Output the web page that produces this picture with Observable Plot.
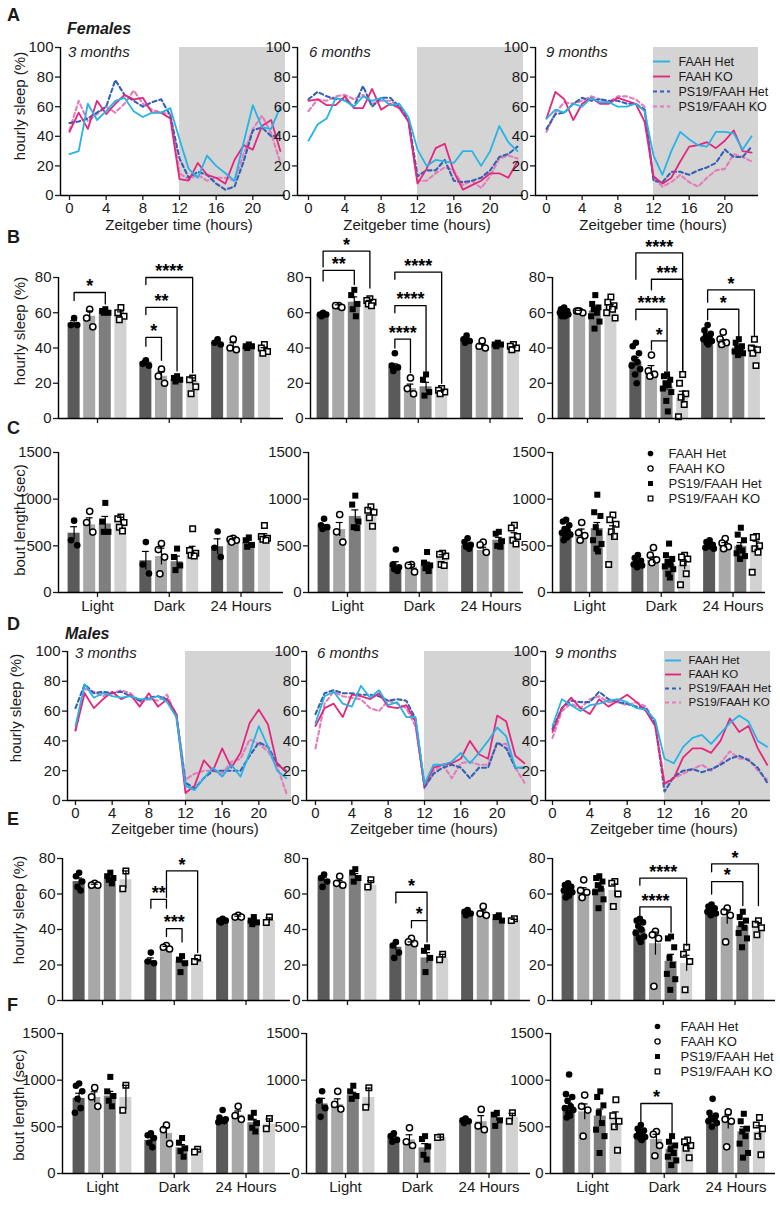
<!DOCTYPE html>
<html><head><meta charset="utf-8">
<script src="https://cdn.jsdelivr.net/npm/d3@7"></script>
<script src="https://cdn.jsdelivr.net/npm/@observablehq/plot@0.6"></script>
<style>
body{margin:0;background:#fff;}
#fig{position:relative;width:780px;height:1206px;font-family:"Liberation Sans",Arial,Helvetica,sans-serif;color:#1a1a1a;overflow:hidden;background:#fff}
.t{position:absolute;white-space:nowrap;line-height:1}
.pl{position:absolute}
#fig g.tick line, #fig g[aria-label$="tick"] path{stroke-width:1.3}
</style></head><body><div id="fig"></div>
<script>
// ---------------- DATA ----------------
const genotypes = ["FAAH Het","FAAH KO","PS19/FAAH Het","PS19/FAAH KO"];
const phases = ["Light","Dark","24 Hours"];
const ages = ["3 months","6 months","9 months"];
const hours = [0,1,2,3,4,5,6,7,8,9,10,11,12,13,14,15,16,17,18,19,20,21,22,23];
const hourTicks = [0,4,8,12,16,20];
const sleepLineTicks = [0,20,40,60,80,100];
const sleepBarTicks = [0,20,40,60,80];
const boutTicks = [0,500,1000,1500];
const darkPhase = [12,24];

// Females hourly sleep (A)
const f3_het  = [28,30,62,51,57,64,66,57,53,56,56,59,38,18,12,27,20,15,10,36,61,46,45,60];
const f3_ko   = [43,56,45,64,55,62,68,65,66,56,56,52,11,10,22,14,12,8,24,34,31,47,51,30];
const f3_psHet= [49,50,52,56,60,78,68,64,60,63,65,54,25,12,16,14,8,4,6,23,44,46,40,41];
const f3_psKo = [44,64,50,55,60,56,62,71,62,58,56,55,15,11,14,10,12,12,10,28,45,54,42,22];
const f6_het  = [37,48,52,66,64,60,67,64,66,61,62,53,31,20,24,23,22,30,30,20,30,47,36,30];
const f6_ko   = [64,65,61,61,67,59,59,72,58,62,59,50,8,18,32,35,16,4,7,10,15,15,12,23];
const f6_psHet= [65,70,67,65,65,60,74,60,66,66,60,52,13,17,17,24,10,9,10,12,17,26,28,33];
const f6_psKo = [57,65,64,67,68,65,68,62,64,64,60,50,10,10,15,19,17,7,10,5,13,25,27,25];
const f9_het  = [52,58,56,62,60,66,63,63,60,60,62,57,27,14,30,43,38,34,33,43,43,42,31,40];
const f9_ko   = [52,70,65,51,62,66,62,62,66,64,62,50,13,8,12,23,33,34,36,32,37,44,30,29];
const f9_psHet= [45,55,56,62,66,64,65,64,64,62,62,58,10,9,16,16,14,17,19,22,31,26,26,33];
const f9_psKo = [43,56,63,62,64,67,65,63,67,67,65,60,12,6,9,14,9,6,12,17,18,28,26,23];
// Males hourly sleep (D)
const m3_het  = [50,78,69,72,70,69,70,68,68,70,66,56,10,7,15,22,16,24,16,32,50,36,20,15];
const m3_ko   = [47,72,62,68,73,68,71,63,72,63,68,58,5,10,27,20,35,22,32,52,61,51,24,20];
const m3_psHet= [62,78,72,73,72,73,70,67,69,70,68,58,12,8,15,20,20,20,20,30,39,36,25,19];
const m3_psKo = [47,75,73,70,72,74,72,66,68,67,71,56,14,18,20,20,18,26,28,41,38,33,23,5];
const m6_het  = [52,70,73,65,63,77,69,74,64,66,56,56,11,24,24,26,32,25,32,40,49,43,22,22];
const m6_ko   = [50,62,65,56,71,70,68,72,63,62,64,53,10,22,24,25,28,40,31,28,57,53,30,25];
const m6_psHet= [58,72,74,72,72,71,71,70,67,68,67,55,9,18,22,24,22,15,22,22,39,35,22,22];
const m6_psKo = [35,65,73,70,69,68,62,60,67,65,62,50,8,20,24,15,25,26,24,24,38,38,22,12];
const m9_het  = [50,68,64,60,64,65,67,68,66,62,61,54,28,25,36,42,44,38,45,52,57,53,40,36];
const m9_ko   = [46,62,69,62,58,68,63,67,71,66,60,50,11,15,29,35,35,32,40,55,46,50,35,24];
const m9_psHet= [48,62,67,66,66,73,68,66,65,63,62,52,6,16,20,21,19,21,24,28,30,27,22,12];
const m9_psKo = [42,60,65,62,68,70,66,66,64,66,63,52,12,15,18,21,24,20,25,33,28,28,20,14];

// Bar panels: rows = [Light, Dark, 24 Hours], cols = genotypes
// Females hourly sleep (B)
const fS3_mean = [[54,58,61,59],[32,24,22,21],[43,41,41,39]];
const fS3_sem  = [[1.5,3,0.6,1.5],[1,2.5,0.7,2],[1,2,0.4,1.2]];
const fS3_pts  = [[[57,53,53],[62,57,52],[62,61,60,60],[63,60,58,56]],
                  [[33,31,30],[28,24,20],[24,23,22,21],[23,22,18,14]],
                  [[45,43,42],[45,40,39],[42,41,41,40],[42,40,38,37]]];
const fS3_sig  = [[0,0,2,71.5,67,65,"*"],[1,0,1,46,41,33,"*"],[1,0,2,63,59,27,"**"],[1,0,3,80,76,26,"****"]];
const fS6_mean = [[59,64,66,66],[29,17,18,15],[44,41,42,40]];
const fS6_sem  = [[0.5,0.5,3,1],[2,2.5,2.5,0.8],[1,1.2,0.5,0.6]];
const fS6_pts  = [[[60,59,59,58],[64,64,63],[73,70,65,62,58],[68,67,66,65,64]],
                  [[37,30,29,27],[23,17,14],[25,22,15,13],[17,16,15,14]],
                  [[47,45,44,43],[44,41,40],[43,42,42,41],[42,41,40,39]]];
const fS6_sig  = [[0,0,2,84,78,76,"**"],[0,0,3,95,86,74,"*"],[1,0,1,45,40,26,"****"],[1,0,2,64,60,26,"****"],[1,0,3,83,79,20,"****"]];
const fS9_mean = [[60,61,61,63],[32,27,18,12],[46,43,40,39]];
const fS9_sem  = [[0.6,0.4,2,1.6],[2.5,3,2,3.5],[1,1.5,1,2]];
const fS9_pts  = [[[63,62,61,61,60,60,59,59,58,58],[61,61,60,61],[70,65,63,62,60,58,55,51],[69,66,64,63,62,60,57]],
                  [[43,41,37,34,32,30,28,25,20],[36,27,25,24],[25,24,22,20,19,17,15,10,4],[25,20,14,12,8,1]],
                  [[53,50,48,47,46,45,44,43,42],[49,45,43,42],[45,43,41,40,39,38,37,36],[45,40,39,37,30]]];
const fS9_sig  = [[1,0,3,94,79,27,"****"],[1,1,3,79,73,27,"***"],[1,0,2,62,56,44,"****"],[1,1,2,44,39,27,"*"],
                  [2,0,3,73,66,47,"*"],[2,0,2,62,56,46,"*"]];
// Females bout length (C)
const fB3_mean = [[635,725,735,770],[340,385,330,440],[490,560,530,600]];
const fB3_sem  = [[70,75,80,35],[100,90,60,55],[85,15,30,30]];
const fB3_pts  = [[[770,560,505],[870,750,647],[960,760,650,650],[810,790,750,700,660]],
                  [[540,300,203],[525,460,380,200],[470,380,290,240],[683,450,420,400,390]],
                  [[654,480,380],[580,570,560,540],[590,560,510,490],[718,600,580,570,560]]];
const fB6_mean = [[700,675,815,860],[285,270,290,375],[505,450,560,600]];
const fB6_sem  = [[25,75,70,35],[45,30,35,30],[20,35,30,40]];
const fB6_pts  = [[[790,720,700,680],[835,650,540],[1038,942,760,700,690],[920,880,860,800,710]],
                  [[460,300,270,250,230],[300,290,220],[434,320,290,260,230],[420,410,390,300,290]],
                  [[580,540,510,490,470],[540,510,430],[650,630,550,500,490],[720,690,600,560,520]]];
const fB9_mean = [[650,640,685,645],[325,345,300,290],[505,505,495,495]];
const fB9_sem  = [[20,40,65,70],[15,35,35,45],[15,30,40,55]];
const fB9_pts  = [[[780,760,720,680,660,640,620,600,590,560],[750,640,610,560],[1048,860,820,700,640,560,520,470,440],[830,780,730,650,600,300]],
                  [[400,370,340,320,310,300,290,270],[480,400,350,320],[524,400,360,330,300,280,250,200,160],[400,380,360,320,200,83]],
                  [[560,540,510,500,490,480,470],[578,530,490,470],[694,620,560,480,450,420,390,360],[600,590,500,470,430,217]]];
// Males hourly sleep (E)
const mS3_mean = [[67,65,68,68],[22.5,30,22,22],[45,47,45,45]];
const mS3_sem  = [[2,0.5,1,5],[1.5,0.5,2,1],[0.5,0.5,1,1.5]];
const mS3_pts  = [[[72,70,67,64,62],[66,65,65],[72,70,69,68,66],[73,63]],
                  [[27,22,21],[31,30,29],[25,23,21,16],[24,22]],
                  [[46,45,45,44],[48,47,47],[47,45,44,43],[47,44]]];
const mS3_sig  = [[1,0,1,57,52,52,"**"],[1,1,2,40.5,36,33,"***"],[1,1,3,73,58,27,"*"]];
const mS6_mean = [[68,66,70,65],[30,32,24,24],[49,49,46,45]];
const mS6_sem  = [[1.5,1.5,1.5,2.5],[2,1,3,2],[0.7,1.5,0.8,0.7]];
const mS6_pts  = [[[71,69,67,64],[70,66,65],[74,72,69,67],[68,64]],
                  [[33,31,27,24],[35,33,32],[30,28,24,16],[26,23]],
                  [[51,50,49,48],[53,49,48],[48,47,45],[46,45]]];
const mS6_sig  = [[1,0,2,61,55,45,"*"],[1,1,2,45,41,33,"*"]];
const mS9_mean = [[62.5,62,63,62],[40,32,22,21],[51,47,42,42]];
const mS9_sem  = [[0.8,1.5,2,3.5],[1.5,6.5,4,4.5],[0.6,4,2,1.8]];
const mS9_pts  = [[[66,65,64,63,62,62,61,60,59,58],[68,62,61,58],[70,69,67,65,63,61,57,52],[67,66,60,53]],
                  [[46,45,44,42,40,38,36,35,33],[39,37,35,8],[36,35,30,24,20,15,12,6],[30,26,22,6]],
                  [[54,53,52,52,51,50,49,48],[52,50,48,33],[50,47,45,43,41,38,35,30],[45,43,41,37]]];
const mS9_sig  = [[1,0,3,69,65,31,"****"],[1,0,2,52.7,48,38.5,"****"],[2,0,3,77,72.5,53.5,"*"],[2,0,2,67,60,53.5,"*"]];
// Males bout length (F)
const mB3_mean = [[805,815,830,815],[355,430,275,245],[570,625,545,530]];
const mB3_sem  = [[55,60,50,130],[30,60,35,15],[20,45,35,55]];
const mB3_pts  = [[[964,940,880,800,700,650],[920,820,720],[1035,880,830,780,720],[946,678]],
                  [[430,410,380,330,280],[518,470,320],[380,330,270,240,180],[260,230]],
                  [[680,600,580,570,560,550],[720,620,580],[650,600,540,490,450],[590,480]]];
const mB6_mean = [[745,740,840,815],[375,360,275,385],[565,555,590,600]];
const mB6_sem  = [[60,60,30,100],[25,55,45,5],[15,65,30,45]];
const mB6_pts  = [[[882,780,700,607],[880,740,690],[940,880,830,800],[920,710]],
                  [[430,400,360,340],[489,340,300],[400,370,290,200,150],[390,385]],
                  [[590,570,560,540],[686,510,470],[650,630,570,510],[650,560]]];
const mB9_mean = [[715,660,615,570],[410,365,260,285],[590,553,446,446]];
const mB9_sem  = [[40,85,75,90],[15,55,35,35],[25,75,55,65]];
const mB9_pts  = [[[1060,850,820,780,720,700,680,650,620,600],[840,720,680,400],[880,820,730,650,540,470,400,220],[790,620,560,500,250]],
                  [[520,480,460,440,420,400,390,380,360],[450,420,300,190],[400,340,300,260,220,180,140,90],[360,340,300,270,170]],
                  [[800,650,620,600,580,560,540,500],[660,580,560,286],[640,560,480,450,400,320,220,170],[600,520,480,400,200]]];
const mB9_sig  = [[1,0,2,750,535,410,"*"]];

// ---------------- STYLE / LAYOUT ----------------
const lineColors = ["#27b3e6","#e5267d","#3461b3","#e47cba"];
const barColors = ["#5a5a5a","#a8a8a8","#7e7e7e","#d2d2d2"];
const shadeColor = "#d4d4d4";
const FONT = '"Liberation Sans", Arial, Helvetica, sans-serif';
const S = {fontFamily: FONT, fontSize: "15px", color: "#1a1a1a", background: "transparent", overflow: "visible", maxWidth: "none"};
const unitPx = 15.6, groupStep = 4.6, barHalf = 0.385, capHalf = 0.22;
const jitter = [0,-0.2,0.2,-0.1,0.1,-0.27,0.27,-0.05,0.05,-0.15,0.15];
const plain = d => String(d);
const fig = document.getElementById("fig");

function mount(svg, left, top, w) {
  const d = document.createElement("div");
  d.className = "pl"; d.style.left = left + "px"; d.style.top = top + "px"; d.style.width = w + "px";
  d.appendChild(svg); fig.appendChild(d);
}
function txt(s, x, base, size, o = {}) {
  const d = document.createElement("div");
  d.className = "t"; d.textContent = s;
  d.style.left = x + "px"; d.style.top = (base - 0.85 * size) + "px"; d.style.fontSize = size + "px";
  if (o.bold) d.style.fontWeight = "bold";
  if (o.italic) d.style.fontStyle = "italic";
  if (o.center) d.style.transform = "translateX(-50%)";
  fig.appendChild(d);
}
function vtxt(s, cx, cy, size) {
  const d = document.createElement("div");
  d.className = "t"; d.textContent = s;
  d.style.left = cx + "px"; d.style.top = cy + "px"; d.style.fontSize = size + "px";
  d.style.transform = "translate(-50%,-50%) rotate(-90deg)";
  fig.appendChild(d);
}

function linePanel(series, lay) {
  const mL = 45, mR = 8, mT = 8, mB = 30;
  const pxh = (lay.x12 - lay.x0) / 12;
  const xmin = -(lay.x0 - lay.L) / pxh, xmax = (lay.R - lay.x0) / pxh;
  const w = lay.R - lay.L + mL + mR, h = lay.B - lay.T + mT + mB;
  const order = [3, 2, 1, 0];
  const svg = Plot.plot({
    width: w, height: h, marginLeft: mL, marginRight: mR, marginTop: mT, marginBottom: mB,
    style: S,
    x: {domain: [xmin, xmax], ticks: hourTicks, tickFormat: plain, tickSize: 5, tickPadding: 2, label: null},
    y: {domain: [0, 100], ticks: sleepLineTicks, tickFormat: plain, tickSize: 5, tickPadding: 2, label: null},
    marks: [
      Plot.rect([darkPhase], {x1: d => d[0], x2: d => d[1], y1: 0, y2: 100, fill: shadeColor, clip: true}),
      ...order.map(j => Plot.line(hours, Object.assign(
        {x: d => d, y: (d, i) => series[j][i], stroke: lineColors[j], strokeWidth: j < 2 ? 1.8 : 2.1},
        j < 2 ? {} : {strokeDasharray: "4,3"}))),
      Plot.ruleY([0], {stroke: "black", strokeWidth: 1.4}),
      Plot.ruleX([xmin], {stroke: "black", strokeWidth: 1.4})
    ]
  });
  mount(svg, lay.L - mL, lay.T - mT, w);
}

function barPanel(mean, sem, pts, sig, lay, yMax, yTicks, showLabels) {
  const mL = 45, mR = 8, mT = 55, mB = 32;
  const xmin = 1.5 - (lay.c0 - lay.L) / unitPx, xmax = 1.5 + (lay.R - lay.c0) / unitPx;
  const w = lay.R - lay.L + mL + mR, h = lay.B - lay.T + mT + mB;
  const pos = (g, k) => g * groupStep + k;
  const bars = [], dots = [[], [], [], []];
  phases.forEach((p, g) => genotypes.forEach((gt, k) => {
    const x = pos(g, k);
    bars.push({x, k, m: mean[g][k], e: sem[g][k]});
    pts[g][k].forEach((v, i) => dots[k].push({x: x + jitter[i % jitter.length], v}));
  }));
  const br = sig.flatMap((s, j) => [
    {j, x: pos(s[0], s[1]), y: s[4]}, {j, x: pos(s[0], s[1]), y: s[3]},
    {j, x: pos(s[0], s[2]), y: s[3]}, {j, x: pos(s[0], s[2]), y: s[5]}]);
  const dotStyles = [
    {fill: "black", r: 3.3},
    {fill: "white", stroke: "black", strokeWidth: 1.5, r: 3.1},
    {fill: "black", symbol: "square", r: 3.4},
    {fill: "white", stroke: "black", strokeWidth: 1.5, symbol: "square", r: 3.1}
  ];
  const svg = Plot.plot({
    width: w, height: h, marginLeft: mL, marginRight: mR, marginTop: mT, marginBottom: mB,
    style: S,
    x: {domain: [xmin, xmax], ticks: phases.map((p, g) => pos(g, 1.5)),
        tickFormat: d => showLabels ? phases[Math.round((d - 1.5) / groupStep)] : "",
        tickSize: 5, tickPadding: 3, label: null},
    y: {domain: [0, yMax], ticks: yTicks, tickFormat: plain, tickSize: 5, tickPadding: 2, label: null},
    marks: [
      ...barColors.map((c, k) => Plot.rect(bars.filter(d => d.k === k),
        {x1: d => d.x - barHalf, x2: d => d.x + barHalf, y1: 0, y2: "m", fill: c})),
      ...dotStyles.map((st, k) => Plot.dot(dots[k], Object.assign({x: "x", y: "v"}, st))),
      Plot.ruleX(bars, {x: "x", y1: d => d.m - d.e, y2: d => d.m + d.e, stroke: "black", strokeWidth: 1.2}),
      Plot.ruleY(bars, {y: d => d.m + d.e, x1: d => d.x - capHalf, x2: d => d.x + capHalf, stroke: "black", strokeWidth: 1.2}),
      Plot.line(br, {x: "x", y: "y", z: "j", stroke: "black", strokeWidth: 1.3}),
      Plot.text(sig, {x: s => (pos(s[0], s[1]) + pos(s[0], s[2])) / 2, y: s => s[3], text: s => s[6],
        dy: -6, fontSize: 18, fontWeight: "bold", fill: "black"}),
      Plot.ruleY([0], {stroke: "black", strokeWidth: 1.4}),
      Plot.ruleX([xmin], {stroke: "black", strokeWidth: 1.4})
    ]
  });
  mount(svg, lay.L - mL, lay.T - mT, w);
}

function lineLegend(x, y, seg, gap, spacing, size) {
  const w = 130, h = spacing * 3 + 16;
  const svg = Plot.plot({
    width: w, height: h, margin: 0, style: Object.assign({}, S, {fontSize: size + "px"}),
    x: {domain: [0, 1], range: [4, 4 + seg], axis: null},
    y: {type: "point", domain: genotypes, range: [8, 8 + spacing * 3], axis: null},
    marks: [
      ...genotypes.map((g, j) => Plot.ruleY([g], Object.assign(
        {y: d => d, x1: 0, x2: 1, stroke: lineColors[j], strokeWidth: j < 2 ? 1.9 : 2.2},
        j < 2 ? {} : {strokeDasharray: "4,3"}))),
      Plot.text(genotypes, {x: 1, y: d => d, text: d => d, dx: gap, textAnchor: "start", fill: "#1a1a1a"})
    ]
  });
  mount(svg, x - 4, y - 8, w);
}
function dotLegend(x, y, gap, spacing, size) {
  const w = 128, h = spacing * 3 + 16;
  const st = [
    {fill: "black", r: 2.8}, {fill: "white", stroke: "black", strokeWidth: 1.3, r: 2.6},
    {fill: "black", symbol: "square", r: 2.8}, {fill: "white", stroke: "black", strokeWidth: 1.3, symbol: "square", r: 2.6}];
  const svg = Plot.plot({
    width: w, height: h, margin: 0, style: Object.assign({}, S, {fontSize: size + "px"}),
    x: {domain: [0, 1], range: [6, 6 + gap], axis: null},
    y: {type: "point", domain: genotypes, range: [8, 8 + spacing * 3], axis: null},
    marks: [
      ...genotypes.map((g, j) => Plot.dot([g], Object.assign({x: 0, y: d => d}, st[j]))),
      Plot.text(genotypes, {x: 1, y: d => d, text: d => d, textAnchor: "start", fill: "#1a1a1a"})
    ]
  });
  mount(svg, x - 6, y - 8, w);
}

// ---------------- ROW A: Females line ----------------
const layA = [{L:60,R:285,x0:69,x12:179},{L:297,R:523,x0:308,x12:417},{L:535,R:758,x0:546,x12:653}].map(o => Object.assign(o, {T:47,B:195}));
linePanel([f3_het,f3_ko,f3_psHet,f3_psKo], layA[0]);
linePanel([f6_het,f6_ko,f6_psHet,f6_psKo], layA[1]);
linePanel([f9_het,f9_ko,f9_psHet,f9_psKo], layA[2]);
lineLegend(653, 53, 17, 8, 20, 12.5);

// ---------------- ROW B: Females hourly sleep bars ----------------
const layB = [{L:58,R:283,c0:97},{L:310,R:523,c0:346},{L:552,R:765,c0:587}].map(o => Object.assign(o, {T:277,B:418}));
barPanel(fS3_mean, fS3_sem, fS3_pts, fS3_sig, layB[0], 80, sleepBarTicks, false);
barPanel(fS6_mean, fS6_sem, fS6_pts, fS6_sig, layB[1], 80, sleepBarTicks, false);
barPanel(fS9_mean, fS9_sem, fS9_pts, fS9_sig, layB[2], 80, sleepBarTicks, false);

// ---------------- ROW C: Females bout length ----------------
const layC = [{L:58,R:283,c0:97},{L:308,R:523,c0:347},{L:552,R:765,c0:589}].map(o => Object.assign(o, {T:452,B:592}));
barPanel(fB3_mean, fB3_sem, fB3_pts, [], layC[0], 1500, boutTicks, true);
barPanel(fB6_mean, fB6_sem, fB6_pts, [], layC[1], 1500, boutTicks, true);
barPanel(fB9_mean, fB9_sem, fB9_pts, [], layC[2], 1500, boutTicks, true);
dotLegend(650, 445, 18, 20.3, 13);

// ---------------- ROW D: Males line ----------------
const layD = [{L:67,R:291,x0:75,x12:185},{L:306,R:531,x0:315,x12:424},{L:545,R:770,x0:552,x12:664}].map(o => Object.assign(o, {T:651,B:800}));
linePanel([m3_het,m3_ko,m3_psHet,m3_psKo], layD[0]);
linePanel([m6_het,m6_ko,m6_psHet,m6_psKo], layD[1]);
linePanel([m9_het,m9_ko,m9_psHet,m9_psKo], layD[2]);
lineLegend(665, 651, 16, 7, 19.7, 11.5);

// ---------------- ROW E: Males hourly sleep bars ----------------
const layE = [{L:62,R:290,c0:102},{L:307,R:530,c0:347},{L:552,R:775,c0:591}].map(o => Object.assign(o, {T:858,B:1000}));
barPanel(mS3_mean, mS3_sem, mS3_pts, mS3_sig, layE[0], 80, sleepBarTicks, false);
barPanel(mS6_mean, mS6_sem, mS6_pts, mS6_sig, layE[1], 80, sleepBarTicks, false);
barPanel(mS9_mean, mS9_sem, mS9_pts, mS9_sig, layE[2], 80, sleepBarTicks, false);

// ---------------- ROW F: Males bout length ----------------
const layF = [{L:62,R:290,c0:102},{L:306,R:530,c0:345},{L:550,R:775,c0:592}].map(o => Object.assign(o, {T:1033,B:1173}));
barPanel(mB3_mean, mB3_sem, mB3_pts, [], layF[0], 1500, boutTicks, true);
barPanel(mB6_mean, mB6_sem, mB6_pts, [], layF[1], 1500, boutTicks, true);
barPanel(mB9_mean, mB9_sem, mB9_pts, mB9_sig, layF[2], 1500, boutTicks, true);
dotLegend(657, 1017, 23, 21, 13);

// ---------------- TEXT ----------------
[["A",21],["B",243],["C",434],["D",630],["E",825],["F",1011]].forEach(([s, b]) => txt(s, 7, b, 18, {bold: true}));
txt("Females", 67, 35, 16, {bold: true, italic: true});
txt("Males", 65, 640, 16, {bold: true, italic: true});
[68, 309, 546].forEach((x, i) => txt(ages[i], x, 57, 15, {italic: true}));
[75, 317, 555].forEach((x, i) => txt(ages[i], x, 658, 15, {italic: true}));
layA.forEach(l => txt("Zeitgeber time (hours)", l.x12, 230, 15, {center: true}));
layD.forEach(l => txt("Zeitgeber time (hours)", l.x12, 834, 15, {center: true}));
vtxt("hourly sleep (%)", 19, 106, 15);
vtxt("hourly sleep (%)", 19, 331, 15);
vtxt("bout length (sec)", 19, 520, 15);
vtxt("hourly sleep (%)", 15, 708, 15);
vtxt("hourly sleep (%)", 18, 910, 15);
vtxt("bout length (sec)", 18, 1105, 15);
</script></body></html>
